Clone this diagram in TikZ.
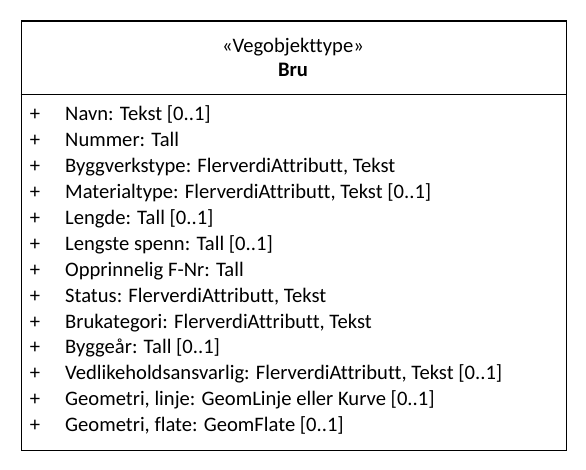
\documentclass[tikz,border=0pt]{standalone}
\usepackage{fontspec}
\setmainfont{Carlito}[Ligatures={NoCommon}]
\begin{document}
\begin{tikzpicture}[x=1pt,y=-1pt,
  txt/.style={inner sep=0pt,font=\fontsize{20.6}{24}\selectfont},
  attr/.style={txt,anchor=base west},
  plus/.style={txt,anchor=base},
  head/.style={txt,anchor=base},
  frame/.style={draw=black,line width=1.2pt}]
\useasboundingbox (0,0) rectangle (586,470);
\fill[white] (0,0) rectangle (586,470);
% class box
\node[frame,minimum width=545pt,minimum height=429pt,anchor=north west,inner sep=0pt] (box) at (20.5,20.5) {};
\coordinate (sepL) at (20.5,94.5);
\coordinate (sepR) at (565.5,94.5);
\draw[line width=1.2pt] (sepL) -- (sepR);
% header
\node[head] (stereo) at (293,52.5) {«Vegobjekttype»};
\node[head,font=\fontsize{20.6}{24}\selectfont\bfseries] (name) at (293,76.5) {Bru};
% attributes
\foreach \i/\t in {
 0/{Navn: Tekst [0..1]},
 1/{Nummer: Tall},
 2/{Byggverkstype: FlerverdiAttributt, Tekst},
 3/{Materialtype: FlerverdiAttributt, Tekst [0..1]},
 4/{Lengde: Tall [0..1]},
 5/{Lengste spenn: Tall [0..1]},
 6/{Opprinnelig F-Nr: Tall},
 7/{Status: FlerverdiAttributt, Tekst},
 8/{Brukategori: FlerverdiAttributt, Tekst},
 9/{Byggeår: Tall [0..1]},
 10/{Vedlikeholdsansvarlig: FlerverdiAttributt, Tekst [0..1]},
 11/{Geometri, linje: GeomLinje eller Kurve [0..1]},
 12/{Geometri, flate: GeomFlate [0..1]}}{
  \node[plus] (p\i) at (35,120.7+25.92*\i) {+};
  \node[attr] (a\i) at (65,120.7+25.92*\i) {\t};
}
\end{tikzpicture}
\end{document}
